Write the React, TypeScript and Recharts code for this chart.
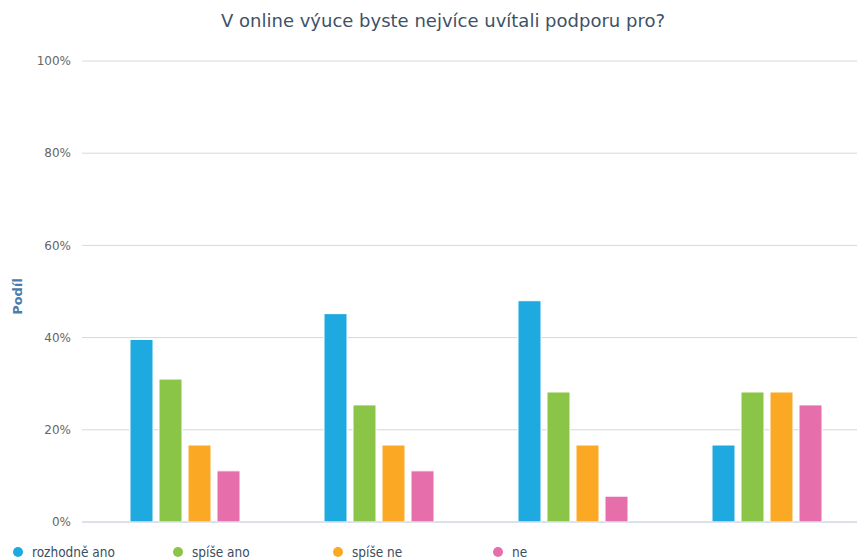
import React from "react"
import { Bar, BarChart, CartesianGrid, Legend, XAxis, YAxis } from "recharts"

const categories = ["A", "B", "C", "D"]
const seriesNames = ["rozhodně ano", "spíše ano", "spíše ne", "ne"]
const rozhodneAno = [39.6, 45.2, 48.0, 16.7]
const spiseAno = [31.0, 25.4, 28.2, 28.2]
const spiseNe = [16.7, 16.7, 16.7, 28.2]
const ne = [11.1, 11.1, 5.6, 25.4]
const yTicks = [0, 20, 40, 60, 80, 100]
const colors = ["#1eaae1", "#8bc548", "#fba925", "#e66fab"]

const seriesValues = [rozhodneAno, spiseAno, spiseNe, ne]
const data = categories.map((c, i) => {
  const row: any = { name: c }
  seriesNames.forEach((s, j) => {
    row[s] = seriesValues[j][i]
  })
  return row
})

const font = "'DejaVu Sans', sans-serif"

function LegendContent({ payload }: any) {
  // keep the series order, not the sorted one
  const items = [...(payload || [])].sort(
    (a: any, b: any) => seriesNames.indexOf(a.value) - seriesNames.indexOf(b.value)
  )
  return (
    <div style={{ display: "flex", height: 30, paddingTop: 14, boxSizing: "border-box" }}>
      {items.map((p: any) => (
        <div
          key={p.value}
          style={{
            width: 160,
            height: 16,
            lineHeight: "16px",
            display: "flex",
            alignItems: "center",
            fontFamily: "'DejaVu Sans Condensed', 'DejaVu Sans', sans-serif",
            fontSize: 13.5,
            color: "#3b4d60",
          }}
        >
          <span
            style={{
              width: 10,
              height: 10,
              borderRadius: "50%",
              background: p.color,
              marginLeft: 13,
              marginRight: 9,
              flexShrink: 0,
            }}
          />
          {p.value}
        </div>
      ))}
    </div>
  )
}

function AxisTitle({ viewBox }: any) {
  const x = 17
  const y = viewBox.y + viewBox.height / 2 + 5
  return (
    <text
      x={x}
      y={y}
      transform={`rotate(-90, ${x}, ${y})`}
      textAnchor="middle"
      dominantBaseline="central"
      fill="#4d7bab"
      fontSize={13}
      fontWeight="bold"
      fontFamily={font}
    >
      Podíl
    </text>
  )
}

export default function App() {
  return (
    <div style={{ position: "fixed", top: 0, left: 0, width: 857, height: 560, overflow: "hidden", background: "#fff" }}>
      <div
        style={{
          position: "absolute",
          top: 10,
          left: 443,
          transform: "translateX(-50%)",
          whiteSpace: "nowrap",
          fontFamily: font,
          fontSize: 18,
          color: "#3d5267",
          zIndex: 2,
        }}
      >
        V online výuce byste nejvíce uvítali podporu pro?
      </div>
      <BarChart
        width={870}
        height={560}
        data={data}
        margin={{ top: 61, right: 0, bottom: 0, left: 0 }}
        barCategoryGap={42}
        barGap={6}
      >
        <CartesianGrid vertical={false} stroke="#d8d8d8" />
        <XAxis
          dataKey="name"
          tick={false}
          tickSize={6}
          height={8}
          padding={{ left: 6, right: 6 }}
          axisLine={{ stroke: "#ccd6eb" }}
          tickLine={{ stroke: "#ccd6eb" }}
        />
        <YAxis
          width={82}
          domain={[0, 100]}
          ticks={yTicks}
          tickFormatter={(v) => `${v}%`}
          axisLine={false}
          tickLine={false}
          tickSize={0}
          tickMargin={11}
          tick={{ fill: "#666666", fontSize: 12, fontFamily: font }}
          label={<AxisTitle />}
        />
        <Legend verticalAlign="bottom" align="left" content={<LegendContent />} />
        {seriesNames.map((s, i) => (
          <Bar key={s} dataKey={s} fill={colors[i]} stroke="#ffffff" strokeWidth={1} isAnimationActive={false} />
        ))}
      </BarChart>
    </div>
  )
}
